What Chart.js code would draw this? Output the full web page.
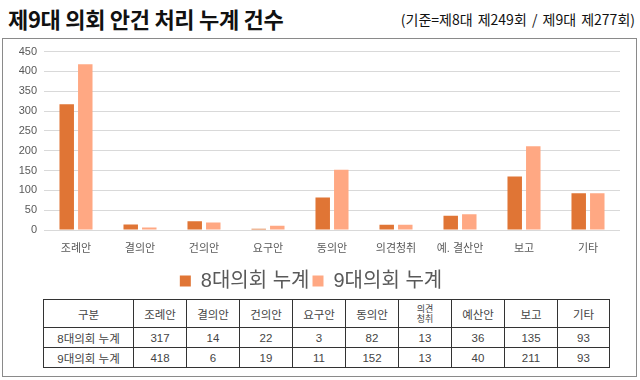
<!DOCTYPE html>
<html>
<head>
<meta charset="utf-8">
<script src="https://cdn.jsdelivr.net/npm/chart.js@4"></script>
<style>
  html, body { margin: 0; padding: 0; background: #fff; }
  body { width: 640px; height: 380px; position: relative; overflow: hidden; font-family: 'Liberation Sans', 'Noto Sans CJK KR', sans-serif; }
  #title { position: absolute; left: 8px; top: 3px; font-family: 'Noto Sans CJK KR', sans-serif; font-weight: 700; font-size: 22px; letter-spacing: -0.3px; color: #111; line-height: 30px; }
  #subtitle { position: absolute; right: 5px; top: 9px; font-family: 'Noto Sans CJK KR', sans-serif; font-size: 14px; color: #111; line-height: 20px; word-spacing: 2px; }
  #frame { position: absolute; left: 2px; top: 38px; width: 633px; height: 337px; border: 1.5px solid #8a8a8a; }
  #chart-wrap { position: absolute; left: 2px; top: 38px; width: 635px; height: 263px; }
  #tbl { position: absolute; left: 43px; top: 299px; border-collapse: collapse; font-size: 11.5px; color: #444; background: #fff; }
  #tbl td { border: 1px solid #333; text-align: center; padding: 0; height: 19px; }
  #tbl tr:first-child td { height: 27px; }
  #tbl .small { font-size: 9px; line-height: 10px; display: inline-block; }
</style>
</head>
<body>
<div id="title">제9대 의회 안건 처리 누계 건수</div>
<div id="subtitle">(기준=제8대 제249회 / 제9대 제277회)</div>
<div id="frame"></div>
<div id="chart-wrap"><canvas id="chart"></canvas></div>
<table id="tbl"></table>

<script>
// 차트 데이터
const categories = ['조례안', '결의안', '건의안', '요구안', '동의안', '의견청취', '예. 결산안', '보고', '기타'];
const council8 = [317, 14, 22, 3, 82, 13, 36, 135, 93];
const council9 = [418, 6, 19, 11, 152, 13, 40, 211, 93];
const seriesNames = ['8대의회 누계', '9대의회 누계'];
const tableHeaders = ['구분', '조례안', '결의안', '건의안', '요구안', '동의안', '의견<br>청취', '예산안', '보고', '기타'];
const yTicks = [0, 50, 100, 150, 200, 250, 300, 350, 400, 450];

// 표 만들기
const colWidths = [89, 52, 52, 52, 52, 52, 52, 52, 52, 51];
const tbl = document.getElementById('tbl');
function addRow(cells) {
    const tr = document.createElement('tr');
    cells.forEach((c, i) => {
        const td = document.createElement('td');
        td.style.width = colWidths[i] + 'px';
        td.innerHTML = c;
        tr.appendChild(td);
    });
    tbl.appendChild(tr);
}
addRow(tableHeaders.map(h => h.includes('<br>') ? `<span class="small">${h}</span>` : h));
addRow([seriesNames[0], ...council8]);
addRow([seriesNames[1], ...council9]);

const fontFamily = "'Liberation Sans', 'Noto Sans CJK KR', sans-serif";

new Chart(document.getElementById('chart'), {
    type: 'bar',
    data: {
        labels: categories,
        datasets: [
            {
                label: seriesNames[0],
                data: council8,
                backgroundColor: '#E07535',
                categoryPercentage: 0.58,
                barPercentage: 0.78
            },
            {
                label: seriesNames[1],
                data: council9,
                backgroundColor: '#FFA883',
                categoryPercentage: 0.58,
                barPercentage: 0.78
            }
        ]
    },
    options: {
        responsive: true,
        maintainAspectRatio: false,
        animation: false,
        layout: { padding: { top: 8, right: 17, left: 0, bottom: 0 } },
        plugins: {
            tooltip: { enabled: false },
            legend: {
                position: 'bottom',
                labels: {
                    boxWidth: 11,
                    boxHeight: 11,
                    padding: 3,
                    color: '#595959',
                    font: { family: fontFamily, size: 20 }
                }
            }
        },
        scales: {
            x: {
                grid: { display: false, drawTicks: false },
                border: { display: false },
                ticks: { color: '#595959', padding: 12, font: { family: fontFamily, size: 11 } },
                afterFit: s => { s.height = 38; }
            },
            y: {
                min: 0,
                max: 450,
                afterBuildTicks: s => { s.ticks = yTicks.map(v => ({ value: v })); },
                grid: { color: '#d9d9d9', lineWidth: 1, drawTicks: false },
                border: { display: false },
                ticks: { color: '#595959', padding: 7, font: { family: fontFamily, size: 11 } },
                afterFit: s => { s.width = 42; }
            }
        }
    }
});
</script>
</body>
</html>
